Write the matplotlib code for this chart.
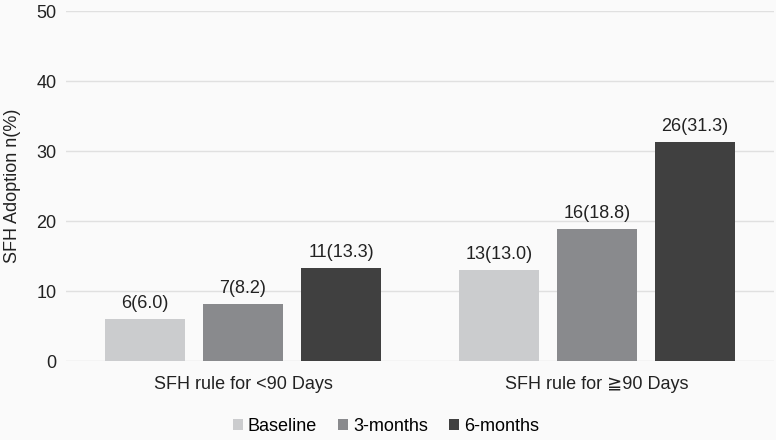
import matplotlib.pyplot as plt
import numpy as np

plt.rcParams['font.family'] = ['Liberation Sans', 'DejaVu Sans', 'Noto Sans CJK JP']

categories = ['SFH rule for <90 Days', 'SFH rule for \u226790 Days']
series = ['Baseline', '3-months', '6-months']
counts = [[6, 13], [7, 16], [11, 26]]
pcts = [[6.0, 13.0], [8.2, 18.8], [13.3, 31.3]]
colors = ['#cbccce', '#898a8d', '#404040']

bg = '#fafafa'
txt = '#222222'
fig = plt.figure(figsize=(7.76, 4.4), dpi=100, facecolor=bg)
ax = fig.add_axes([66 / 776, 1 - 361 / 440, 708 / 776, 350 / 440])
ax.set_facecolor(bg)

x = np.arange(len(categories))
width = 0.225
step = 0.277
for i, name in enumerate(series):
    pos = x + (i - 1) * step
    bars = ax.bar(pos, pcts[i], width, color=colors[i], label=name, zorder=3)
    for b, n, p in zip(bars, counts[i], pcts[i]):
        ax.text(b.get_x() + b.get_width() / 2, p + 1.0, f'{n}({p:.1f})',
                ha='center', va='bottom', fontsize=13, color=txt)

ax.set_xlim(-0.5, 1.5)
ax.set_ylim(0, 50)
ax.set_yticks(range(0, 51, 10))
ax.set_xticks(x)
ax.set_xticklabels(categories, fontsize=13, color=txt)
ax.tick_params(axis='y', labelsize=13, colors=txt, length=0, pad=7)
ax.tick_params(axis='x', length=0, pad=11)
ax.grid(axis='y', color='#e0e0e0', linewidth=1, zorder=0)
ax.set_axisbelow(True)
for s in ax.spines.values():
    s.set_visible(False)
fig.text(13 / 776, 1 - 186 / 440, 'SFH Adoption n(%)', rotation=90,
         ha='center', va='center', fontsize=13, color=txt)

ax.legend(loc='upper center', bbox_to_anchor=(0.452, -0.115), ncol=3, frameon=False,
          fontsize=13, handlelength=0.55, handleheight=0.55, handletextpad=0.25,
          columnspacing=1.2)

fig.savefig('out.png', dpi=100, facecolor=bg)
